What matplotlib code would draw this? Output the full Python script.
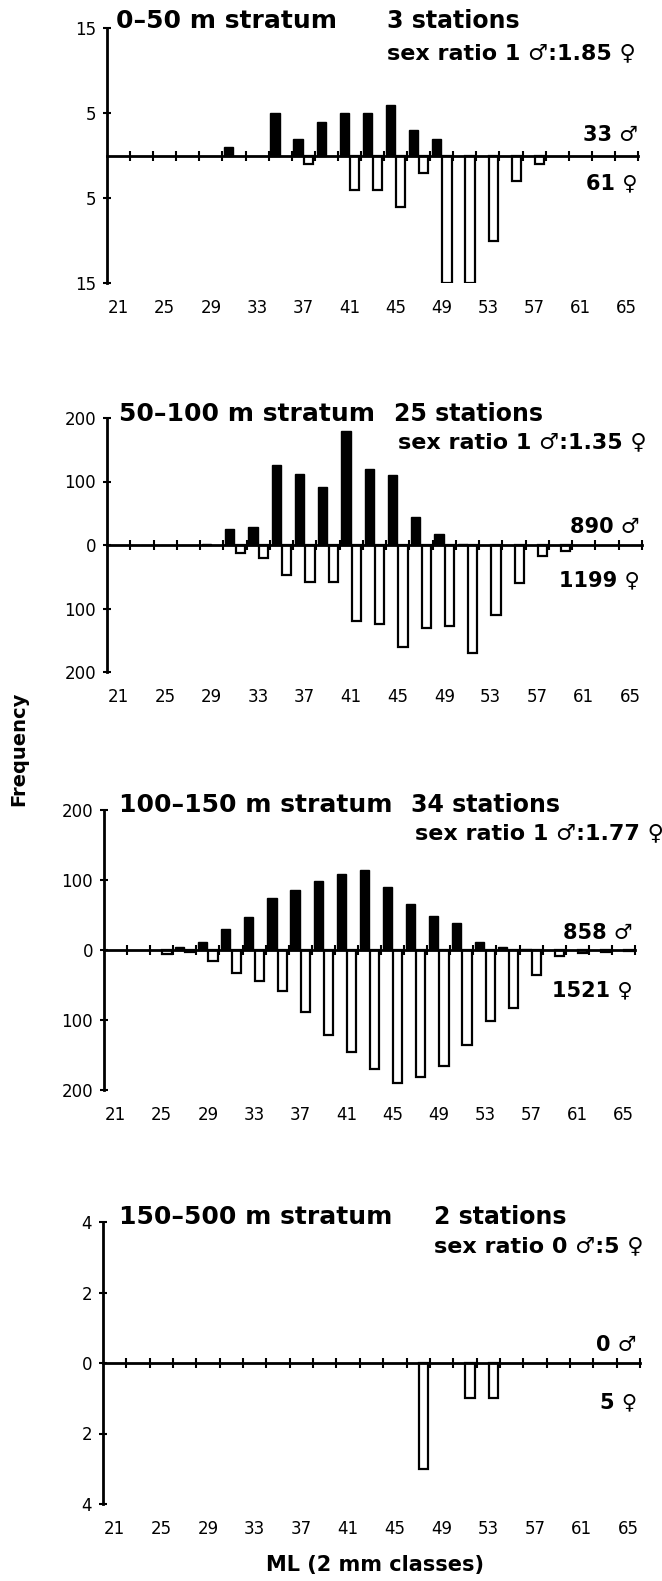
import matplotlib
matplotlib.use('Agg')
import matplotlib.pyplot as plt

# ML size classes (2 mm), labelled every second class
classes = [21, 23, 25, 27, 29, 31, 33, 35, 37, 39, 41, 43, 45, 47, 49, 51, 53, 55, 57, 59, 61, 63, 65]
class_labels = [21, 25, 29, 33, 37, 41, 45, 49, 53, 57, 61, 65]

# 0-50 m stratum
male_0_50 = [0, 0, 0, 0, 0, 1, 0, 5, 2, 4, 5, 5, 6, 3, 2, 0, 0, 0, 0, 0, 0, 0, 0]
female_0_50 = [0, 0, 0, 0, 0, 0, 0, 0, 1, 0, 4, 4, 6, 2, 15, 15, 10, 3, 1, 0, 0, 0, 0]

# 50-100 m stratum
male_50_100 = [0, 0, 0, 0, 2, 25, 28, 126, 112, 91, 180, 119, 111, 44, 17, 1, 0, 0, 0, 0, 0, 0, 0]
female_50_100 = [0, 0, 0, 0, 0, 12, 20, 47, 58, 58, 120, 124, 161, 131, 128, 170, 111, 60, 17, 10, 0, 0, 0]

# 100-150 m stratum
male_100_150 = [0, 0, 0, 4, 12, 30, 47, 75, 86, 99, 109, 115, 90, 66, 48, 38, 12, 4, 2, 0, 0, 0, 0]
female_100_150 = [0, 0, 5, 3, 15, 33, 44, 58, 88, 121, 145, 170, 190, 181, 166, 135, 102, 83, 36, 8, 4, 3, 2]

# 150-500 m stratum
male_150_500 = [0] * 23
female_150_500 = [0, 0, 0, 0, 0, 0, 0, 0, 0, 0, 0, 0, 0, 3, 0, 1, 1, 0, 0, 0, 0, 0, 0]

W, H = 662, 1581
fig = plt.figure(figsize=(W / 100, H / 100), dpi=100)


def fx(px):
    return px / W


def fy(py):
    return 1 - py / H


def draw_panel(box, male, female, ymax, yticks, ylabels):
    left, right, top, bottom = box
    ax = fig.add_axes([fx(left), fy(bottom), fx(right - left), (bottom - top) / H])
    mx = [c - 0.45 for c, m in zip(classes, male) if m > 0]
    mh = [m for m in male if m > 0]
    fxs = [c + 0.45 for c, f in zip(classes, female) if f > 0]
    fh = [-f for f in female if f > 0]
    ax.bar(mx, mh, width=0.8, color='black', edgecolor='black', linewidth=1, zorder=2)
    ax.bar(fxs, fh, width=0.8, color='white', edgecolor='black', linewidth=1.6, zorder=2)
    ax.set_xlim(20, 66)
    ax.set_ylim(-ymax, ymax)
    for s in ['top', 'right']:
        ax.spines[s].set_visible(False)
    ax.spines['bottom'].set_position(('data', 0))
    ax.spines['bottom'].set_linewidth(2)
    ax.spines['left'].set_linewidth(2)
    ax.spines['bottom'].set_zorder(3)
    ax.set_xticks([c + 1 for c in classes])
    ax.tick_params(axis='x', direction='inout', length=7, width=1.5, labelbottom=False)
    ax.set_yticks(yticks)
    ax.set_yticklabels(ylabels, fontsize=12)
    ax.tick_params(axis='y', direction='inout', length=6, width=1.5, pad=5)
    for v in class_labels:
        ax.annotate(str(v), xy=(v, 0), xycoords=('data', 'axes fraction'),
                    xytext=(0, -25), textcoords='offset pixels',
                    ha='center', va='center', fontsize=12)
    ax.patch.set_alpha(0)
    return ax


def label(px, py, s, size=15, ha='left'):
    fig.text(fx(px), fy(py), s, fontsize=size, fontweight='bold', ha=ha, va='baseline')


# panel 1
draw_panel((107, 638, 28, 283), male_0_50, female_0_50, 15, [15, 5, -5, -15], ['15', '5', '5', '15'])
label(116, 28, '0\u201350 m stratum', 18)
label(387, 28, '3 stations', 17)
label(387, 59, 'sex ratio 1 \u2642:1.85 \u2640', 16)
label(638, 141, '33 \u2642', 15, 'right')
label(638, 189, '61 \u2640', 15, 'right')

# panel 2
draw_panel((107, 642, 418, 672), male_50_100, female_50_100, 200,
           [200, 100, 0, -100, -200], ['200', '100', '0', '100', '200'])
label(119, 421, '50\u2013100 m stratum', 18)
label(394, 421, '25 stations', 17)
label(398, 448, 'sex ratio 1 \u2642:1.35 \u2640', 16)
label(640, 533, '890 \u2642', 15, 'right')
label(640, 586, '1199 \u2640', 15, 'right')

# panel 3
draw_panel((104, 635, 810, 1090), male_100_150, female_100_150, 200,
           [200, 100, 0, -100, -200], ['200', '100', '0', '100', '200'])
label(119, 812, '100\u2013150 m stratum', 18)
label(411, 812, '34 stations', 17)
label(415, 839, 'sex ratio 1 \u2642:1.77 \u2640', 16)
label(633, 939, '858 \u2642', 15, 'right')
label(633, 996, '1521 \u2640', 15, 'right')

# panel 4
draw_panel((103, 640, 1222, 1504), male_150_500, female_150_500, 4,
           [4, 2, 0, -2, -4], ['4', '2', '0', '2', '4'])
label(119, 1224, '150\u2013500 m stratum', 18)
label(434, 1224, '2 stations', 17)
label(434, 1252, 'sex ratio 0 \u2642:5 \u2640', 16)
label(637, 1351, '0 \u2642', 15, 'right')
label(637, 1408, '5 \u2640', 15, 'right')

fig.text(fx(19), fy(749), 'Frequency', rotation=90, fontsize=14, fontweight='bold', ha='center', va='center')
fig.text(fx(375), fy(1565), 'ML (2 mm classes)', fontsize=15, fontweight='bold', ha='center', va='center')

fig.savefig('out.png', dpi=100)
